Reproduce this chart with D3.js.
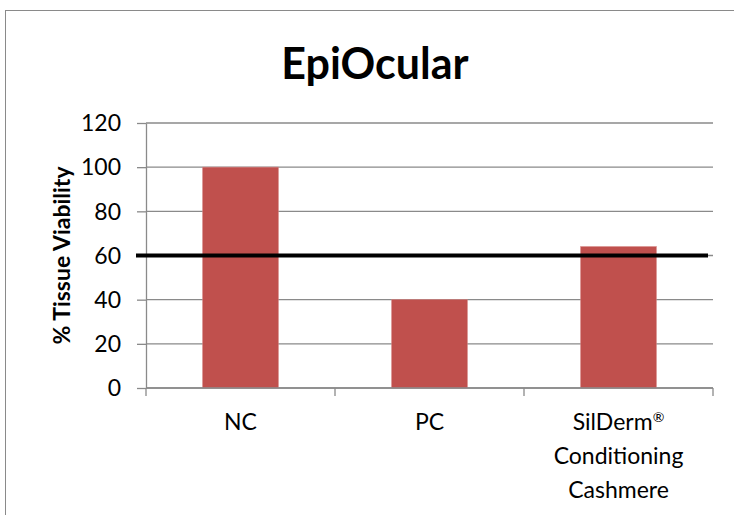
<!DOCTYPE html>
<html>
<head>
<meta charset="utf-8">
<script src="https://cdn.jsdelivr.net/npm/d3@7"></script>
<style>
  html, body { margin: 0; padding: 0; background: #fff; }
  svg { display: block; font-family: Lato, "Open Sans", sans-serif; }
</style>
</head>
<body>
<svg id="chart" width="734" height="515"></svg>
<script>
// ---- data ----
const categoryKeys = ["NC", "PC", "SilDerm"];
const labelLines = [["NC"], ["PC"], ["SilDerm", "Conditioning", "Cashmere"]];
const viability = [100, 40, 64];
const yTicks = [0, 20, 40, 60, 80, 100, 120];
const threshold = 60;
const titleText = "EpiOcular";
const yTitle = "% Tissue Viability";

// ---- layout ----
const svg = d3.select("#chart");
const plot = { left: 146, right: 713, top: 123, bottom: 388 };

// chart border
svg.append("rect")
  .attr("x", 5.5).attr("y", 10.5)
  .attr("width", 800).attr("height", 600)
  .attr("fill", "none").attr("stroke", "#8a8a8a").attr("stroke-width", 1);

const x = d3.scaleBand()
  .domain(categoryKeys)
  .range([plot.left, plot.right])
  .paddingInner(0.6)
  .paddingOuter(0.3);

const y = d3.scaleLinear()
  .domain([0, 120])
  .range([plot.bottom, plot.top]);

// gridlines
svg.append("g").selectAll("line")
  .data(yTicks)
  .join("line")
  .attr("x1", plot.left).attr("x2", plot.right)
  .attr("y1", d => y(d)).attr("y2", d => y(d))
  .attr("stroke", "#8a8a8a").attr("stroke-width", 1.3);

// y axis
const yAxis = d3.axisLeft(y)
  .tickValues(yTicks)
  .tickSize(9)
  .tickSizeOuter(0)
  .tickPadding(16);
const gy = svg.append("g")
  .attr("transform", `translate(${plot.left},0)`)
  .call(yAxis);
gy.select(".domain").attr("stroke", "#8a8a8a").attr("stroke-width", 1.3);
gy.selectAll(".tick line").attr("stroke", "#8a8a8a").attr("stroke-width", 1.3);
gy.selectAll(".tick text")
  .attr("font-family", "Lato, 'Open Sans', sans-serif")
  .attr("font-size", 23)
  .attr("dy", "0.34em")
  .attr("fill", "#000");

// bars
svg.append("g").selectAll("rect")
  .data(viability)
  .join("rect")
  .attr("x", (d, i) => x(categoryKeys[i]))
  .attr("width", x.bandwidth())
  .attr("y", d => y(d))
  .attr("height", d => y(0) - y(d))
  .attr("fill", "#C0504D")
  .attr("stroke", "#d27f7d")
  .attr("stroke-width", 0.6);

// x axis line and boundary ticks
const step = x.step();
const x0 = x.range()[0];
const boundaries = d3.range(categoryKeys.length + 1).map(i => x0 + i * step);
svg.append("line")
  .attr("x1", plot.left).attr("x2", plot.right)
  .attr("y1", y(0)).attr("y2", y(0))
  .attr("stroke", "#8a8a8a").attr("stroke-width", 1.3);
svg.append("g").selectAll("line")
  .data(boundaries)
  .join("line")
  .attr("x1", d => d).attr("x2", d => d)
  .attr("y1", y(0)).attr("y2", y(0) + 8)
  .attr("stroke", "#8a8a8a").attr("stroke-width", 1.3);

// x labels
const xl = svg.append("g").selectAll("text")
  .data(labelLines)
  .join("text")
  .attr("text-anchor", "middle")
  .attr("font-size", 23)
  .attr("fill", "#000")
  .attr("transform", (d, i) => `translate(${x(categoryKeys[i]) + x.bandwidth() / 2},430)`);
xl.each(function(lines) {
  const t = d3.select(this);
  lines.forEach((line, j) => {
    t.append("tspan").attr("x", 0).attr("y", j * 34).text(line);
    if (line === "SilDerm") {
      t.append("tspan")
        .attr("font-size", 14)
        .attr("dy", -8)
        .text("®");
    }
  });
});

// threshold line
svg.append("line")
  .attr("x1", plot.left - 10).attr("x2", plot.right - 5)
  .attr("y1", y(threshold)).attr("y2", y(threshold))
  .attr("stroke", "#000").attr("stroke-width", 4);

// title
svg.append("text")
  .attr("x", 375).attr("y", 79)
  .attr("text-anchor", "middle")
  .attr("font-size", 43)
  .attr("font-weight", "bold")
  .attr("fill", "#000")
  .text(titleText);

// y title
svg.append("text")
  .attr("transform", `translate(70,${(plot.top + plot.bottom) / 2}) rotate(-90)`)
  .attr("text-anchor", "middle")
  .attr("font-size", 23)
  .attr("font-weight", "bold")
  .attr("fill", "#000")
  .text(yTitle);
</script>
</body>
</html>
